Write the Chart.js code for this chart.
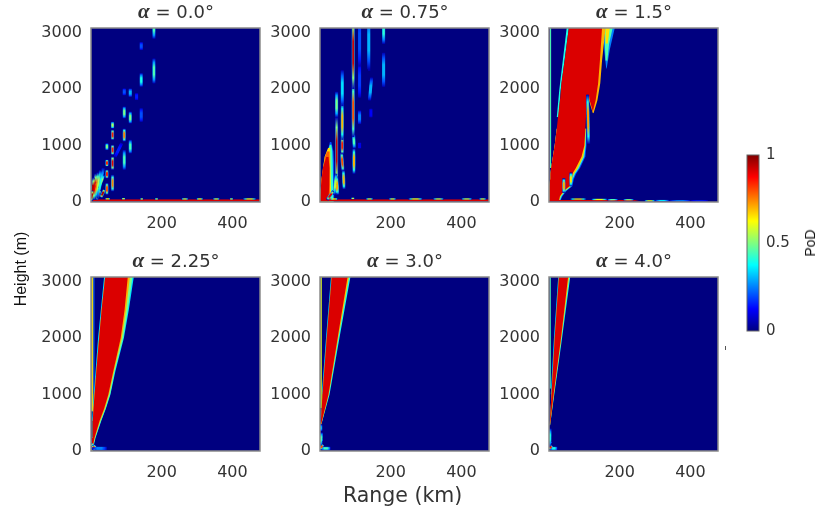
<!DOCTYPE html>
<html>
<head>
<meta charset="utf-8">
<script src="https://cdn.jsdelivr.net/npm/chart.js@4"></script>
<style>
  html, body { margin: 0; padding: 0; background: #fff; }
  #page { position: relative; width: 820px; height: 509px; overflow: hidden; filter: blur(0.35px); }
  canvas { position: absolute; }
  .label { position: absolute; white-space: nowrap; color: #333; font-family: "DejaVu Sans", sans-serif; }
  .panelTitle { font-size: 18px; transform: translateX(-50%); }
  .panelTitle i { font-family: "Liberation Serif", serif; font-weight: bold; font-size: 21px; }
  .mark { position: absolute; left: 725px; top: 346px; width: 1px; height: 4px; background: #555; }
</style>
</head>
<body>
<div id="page"></div>
<script>
// eixos e textos
const titles = ['0.0', '0.75', '1.5', '2.25', '3.0', '4.0'];
const rangeTicks = [200, 400];
const heightTicks = [0, 1000, 2000, 3000];
const podTicks = [0, 0.5, 1];
const jetKnots = [0, 0.125, 0.375, 0.625, 0.875, 1];

// faixas: [altura, alcance esq, alcance dir]
const strip00 = [[8, 0, 478], [50, 0, 478]];
const strip075 = [[8, 0, 478], [50, 0, 478]];
const strip15 = [[8, 0, 262], [36, 0, 240]];

// alpha 0.75
const lobeBlue075 = [[0, 0, 40], [300, 3, 40], [700, 11, 40], [900, 22, 38], [1060, 28, 32]];
const lobeCyan075 = [[0, 0, 38], [300, 3, 37], [700, 12, 36], [900, 22, 35], [1020, 28, 32]];
const lobeYellow075 = [[10, 0, 32], [400, 4, 30], [800, 13, 31], [960, 23, 29]];
const lobeOrange075 = [[10, 0, 29], [400, 4, 28], [800, 14, 28], [900, 20, 27]];
const lobeRed075 = [[10, 0, 24], [300, 3, 26], [600, 8, 27], [800, 18, 24]];

// alpha 1.5
const line15 = [[600, 3, 6], [3080, 3, 6]];
const edge15 = [[1500, 22, 27], [1980, 29, 33], [3080, 50, 56]];
const mainBlue15 = [[30, 0, 33], [100, 0, 38], [200, 1, 50], [280, 2, 66], [400, 3, 70], [500, 4, 77], [600, 6, 88], [800, 11, 103], [1000, 16, 106], [1300, 22, 106]];
const mainCyan15 = [[20, 0, 31], [100, 0, 36], [200, 1, 48], [280, 2, 64], [400, 3, 67], [500, 4, 74], [600, 6, 85], [800, 11, 100], [1000, 16, 104], [1300, 22, 105]];
const mainYellow15 = [[20, 0, 29], [100, 0, 33], [200, 1, 45], [280, 2, 61], [400, 3, 64], [500, 4, 71], [600, 6, 82], [800, 11, 97], [1000, 16, 102], [1300, 22, 104]];
const mainRed15 = [[20, 0, 28], [100, 0, 31], [200, 1, 42], [280, 2, 58], [400, 3, 60], [500, 4, 66], [600, 6, 76], [800, 11, 92], [1000, 16, 100], [1300, 22, 103], [1700, 29, 106], [1850, 32, 113], [2100, 35, 116], [2500, 44, 120], [3080, 56, 128]];
const lobeYellow15 = [[1570, 124, 126], [1800, 113, 137], [2100, 107, 145], [2500, 107, 150], [3080, 108, 160]];
const lobeRed15 = [[1600, 124, 124], [1800, 115, 132], [2100, 108, 139], [2500, 108, 144], [3080, 110, 150]];
const tipBlue15 = [[2360, 162, 163], [2700, 156, 172], [3080, 155, 186]];
const tipCyan15 = [[2500, 160, 165], [2800, 158, 170], [3080, 158, 180]];
const tipYellow15 = [[2800, 160, 166], [3080, 160, 172]];

// alpha 2.25
const lineGreen225 = [[700, 1, 7], [3080, 1, 7]];
const lineYellow225 = [[700, 2, 5], [3080, 2, 5]];
const lineBlue225 = [[1000, 7, 10], [3080, 7, 10]];
const edge225 = [[530, 3, 5], [1000, 8, 10], [2000, 20, 23], [3080, 37, 40]];
const cyan225 = [[0, 1, 4], [235, 3, 13], [530, 5, 29], [750, 7, 42], [1000, 10, 55], [1411, 15, 69], [2000, 23, 93], [2500, 30, 107], [3080, 40, 121]];
const teal225 = [[0, 1, 3], [235, 3, 12], [530, 5, 28], [750, 7, 41], [1000, 10, 54], [1411, 15, 67], [2000, 23, 91], [2500, 30, 104], [3080, 40, 117]];
const yellow225 = [[0, 1, 3], [235, 3, 11], [530, 5, 26], [750, 7, 39], [1000, 10, 51], [1411, 15, 65], [2000, 23, 87], [2500, 30, 99], [3080, 40, 110]];
const red225 = [[0, 1, 2], [235, 3, 10], [530, 5, 24], [750, 7, 37], [1000, 10, 49], [1411, 15, 63], [2000, 23, 84], [2500, 30, 95], [3080, 40, 104]];

// alpha 3.0
const line30 = [[760, 1, 5], [3080, 1, 5]];
const edge30 = [[1000, 5, 7], [2000, 17, 19], [3080, 31, 33]];
const cyan30 = [[450, 2, 3], [1000, 7, 27], [2000, 19, 55], [3080, 33, 86]];
const yellow30 = [[450, 2, 3], [1000, 7, 25], [2000, 19, 52], [3080, 33, 82]];
const red30 = [[470, 2, 3], [1000, 7, 24], [2000, 19, 50], [3080, 33, 78]];

// alpha 4.0
const line40 = [[1100, 2, 5], [3080, 2, 5]];
const edge40 = [[1000, 5, 7], [2000, 14, 16], [3080, 26, 28]];
const cyan40 = [[450, 2, 3], [1000, 7, 15], [2000, 16, 37], [3080, 28, 60]];
const yellow40 = [[450, 2, 3], [1000, 7, 14], [2000, 16, 35], [3080, 28, 57]];
const red40 = [[470, 2, 3], [1000, 7, 13], [2000, 16, 34], [3080, 28, 54]];

// manchas: [alcance0, altura0, alcance1, altura1, PoD]
const spots00 = [
  [178, 2890, 178, 3300, 0.45], [178, 2100, 178, 2540, 0.45], [142, 2690, 142, 2830, 0.2], [142, 2040, 142, 2280, 0.4],
  [142, 1420, 142, 1660, 0.2], [129, 1805, 129, 1925, 0.15], [111, 1860, 111, 2010, 0.3], [94, 1890, 94, 2010, 0.2],
  [94, 1480, 94, 1690, 0.5], [111, 1390, 111, 1600, 0.5], [94, 1070, 94, 1300, 0.75], [111, 860, 111, 1100, 0.45],
  [94, 570, 94, 920, 0.45], [61, 1300, 61, 1420, 0.55], [61, 1100, 61, 1280, 0.85], [61, 835, 61, 1010, 0.85],
  [61, 570, 61, 805, 0.9], [61, 190, 61, 480, 0.75], [45, 920, 45, 1040, 0.5], [45, 630, 45, 750, 0.85],
  [45, 420, 45, 570, 0.85], [45, 130, 45, 335, 0.8], [68, 800, 87, 1040, 0.15],
  [0, 20, 4, 200, 0.95], [2, 30, 8, 430, 0.95], [5, 40, 14, 500, 0.9], [6, 150, 12, 350, 0.9], [8, 40, 20, 520, 0.75],
  [10, 300, 18, 480, 0.7], [12, 60, 27, 560, 0.55], [14, 330, 24, 500, 0.6], [18, 60, 35, 600, 0.4],
  [15, 40, 26, 210, 0.9], [28, 80, 38, 220, 0.95], [22, 250, 36, 480, 0.6], [3, 60, 5, 300, 0.95]
];
const bumps00 = [
  [40, 56, 54, 56, 0.65], [87, 58, 97, 58, 0.6], [139, 54, 148, 54, 0.55], [181, 54, 190, 54, 0.55], [256, 54, 275, 54, 0.55],
  [298, 54, 317, 54, 0.6], [345, 54, 364, 54, 0.55], [392, 54, 402, 54, 0.55], [430, 54, 467, 54, 0.6]
];
const spots075 = [
  [20, 40, 38, 190, 0.9], [40, 130, 46, 500, 0.55], [50, 130, 47, 450, 0.7],
  [47, 1500, 47, 1950, 0.5], [47, 300, 47, 1500, 0.92], [46, 150, 48, 320, 0.75],
  [63, 1700, 63, 2330, 0.35], [63, 1100, 63, 1750, 0.7], [63, 850, 63, 1150, 0.85], [65, 550, 61, 870, 0.8], [68, 230, 66, 560, 0.7],
  [94, 2000, 94, 3300, 0.92], [94, 1150, 94, 2100, 0.8], [97, 950, 95, 1200, 0.45], [96, 500, 96, 950, 0.7],
  [112, 2400, 112, 3300, 0.2], [112, 1850, 112, 2450, 0.18], [112, 1380, 112, 1620, 0.25], [112, 950, 112, 1050, 0.1],
  [136, 2350, 138, 3300, 0.3], [140, 1800, 146, 2200, 0.3], [144, 1500, 144, 1650, 0.12],
  [180, 2800, 180, 3300, 0.42], [180, 2040, 180, 2640, 0.3]
];
const bumps075 = [
  [30, 54, 50, 54, 0.65], [88, 64, 98, 64, 0.55], [130, 54, 150, 54, 0.55], [195, 54, 215, 54, 0.55], [250, 54, 290, 54, 0.6],
  [320, 54, 350, 54, 0.55], [400, 54, 430, 54, 0.55], [450, 54, 470, 54, 0.55]
];
const spots15 = [[112, 1030, 109, 1900, 0.72], [42, 160, 42, 420, 0.7], [62, 280, 62, 520, 0.65]];
const bumps15 = [
  [60, 52, 105, 52, 0.65], [120, 45, 165, 45, 0.6], [165, 40, 195, 42, 0.45], [210, 40, 240, 40, 0.5],
  [270, 20, 300, 20, 0.6], [300, 25, 340, 25, 0.35], [340, 20, 400, 22, 0.25], [400, 20, 450, 20, 0.15]
];
const spots225 = [[3, 47, 45, 47, 0.25], [3, 90, 14, 30, 0.9], [3, 30, 13, 100, 0.7], [0, 130, 5, 90, 0.5]];
const spots30 = [[2, 100, 4, 330, 0.45], [1, 30, 8, 120, 0.8], [3, 47, 30, 47, 0.45], [0, 200, 7, 170, 0.3], [2, 350, 2, 470, 0.3]];
const spots40 = [[2, 80, 3, 400, 0.4], [1, 30, 8, 100, 0.85], [3, 47, 24, 47, 0.4], [1, 150, 6, 130, 0.3]];

// camadas de cada painel, de baixo para cima: [faixa, PoD]
const layers = [
  [[strip00, 0.91]],
  [[lobeBlue075, 0.2], [lobeCyan075, 0.42], [lobeYellow075, 0.65], [lobeOrange075, 0.78], [lobeRed075, 0.91], [strip075, 0.91]],
  [[line15, 0.45], [edge15, 0.4], [tipBlue15, 0.25], [tipCyan15, 0.45], [tipYellow15, 0.65],
   [mainBlue15, 0.2], [mainCyan15, 0.42], [mainYellow15, 0.68], [lobeYellow15, 0.7], [lobeRed15, 0.91], [mainRed15, 0.91], [strip15, 0.91]],
  [[lineGreen225, 0.55], [lineYellow225, 0.68], [lineBlue225, 0.2], [edge225, 0.35], [cyan225, 0.35], [teal225, 0.5], [yellow225, 0.7], [red225, 0.91]],
  [[line30, 0.6], [edge30, 0.35], [cyan30, 0.4], [yellow30, 0.68], [red30, 0.91]],
  [[line40, 0.45], [edge40, 0.35], [cyan40, 0.4], [yellow40, 0.68], [red40, 0.91]]
];
const spots = [spots00, spots075, spots15, spots225, spots30, spots40];
const bumps = [bumps00, bumps075, bumps15, [], [], []];

const panelLefts = [91, 320, 549];
const panelTops = [28, 277];
const panelWidth = 169;
const panelHeight = 174;
const page = document.getElementById('page');

// mapa de cores jet do MATLAB
function jet(v) {
  const c = x => Math.round(255 * Math.max(0, Math.min(1, 1.5 - 4 * Math.abs(v - x))));
  return `rgb(${c(0.75)},${c(0.5)},${c(0.25)})`;
}

function addLabel(html, cls, style) {
  const el = document.createElement('div');
  el.className = 'label ' + cls;
  el.innerHTML = html;
  Object.assign(el.style, style);
  page.appendChild(el);
}

function addCanvas(left, top, width, height) {
  const canvas = document.createElement('canvas');
  canvas.width = width;
  canvas.height = height;
  canvas.style.left = left + 'px';
  canvas.style.top = top + 'px';
  page.appendChild(canvas);
  return canvas;
}

// banda preenchida entre dois contornos
function bandDatasets(rows, pod) {
  const base = { pointRadius: 0, borderWidth: 0, tension: 0, backgroundColor: jet(pod) };
  return [
    { ...base, data: rows.map(r => ({ x: r[1], y: r[0] })), fill: '+1' },
    { ...base, data: rows.map(r => ({ x: r[2], y: r[0] })), fill: false }
  ];
}

// mancha alongada: traco com gradiente ate o valor de pico
function spotDataset(spot, width, pod) {
  return {
    data: [{ x: spot[0], y: spot[1] }, { x: spot[2], y: spot[3] }],
    pointRadius: 0,
    fill: false,
    borderWidth: width,
    borderColor: ctx => {
      const { x, y } = ctx.chart.scales;
      const px0 = x.getPixelForValue(spot[0]);
      const py0 = y.getPixelForValue(spot[1]);
      const px1 = x.getPixelForValue(spot[2]);
      const py1 = y.getPixelForValue(spot[3]);
      // antes do layout as escalas ainda nao tem pixels
      if (![px0, py0, px1, py1].every(Number.isFinite)) return jet(pod);
      const g = ctx.chart.ctx.createLinearGradient(px0, py0, px1, py1);
      const mid = (pod + 0.1) / 2;
      g.addColorStop(0, jet(0.05));
      g.addColorStop(0.15, jet(mid));
      g.addColorStop(0.35, jet(pod));
      g.addColorStop(0.65, jet(pod));
      g.addColorStop(0.85, jet(mid));
      g.addColorStop(1, jet(0.05));
      return g;
    }
  };
}

const panelFrame = {
  id: 'panelFrame',
  beforeDatasetsDraw(chart) {
    const { ctx, chartArea: a } = chart;
    ctx.save();
    ctx.fillStyle = jet(0);
    ctx.fillRect(a.left, a.top, a.width, a.height);
    ctx.restore();
  },
  afterDatasetsDraw(chart) {
    const { ctx, chartArea: a } = chart;
    ctx.save();
    ctx.strokeStyle = '#8a8a8a';
    ctx.lineWidth = 1.5;
    ctx.strokeRect(a.left, a.top, a.width, a.height);
    ctx.restore();
  }
};

// sem margens automaticas: a area do grafico fica onde foi pedida
function zeraPadding(axis) {
  axis.paddingTop = 0;
  axis.paddingBottom = 0;
  axis.paddingLeft = 0;
  axis.paddingRight = 0;
}

function criarPainel(i) {
  const left = panelLefts[i % 3];
  const top = panelTops[Math.floor(i / 3)];
  const canvas = addCanvas(left - 60, top - 8, 60 + panelWidth + 20, 8 + panelHeight + 30);

  const datasets = [];
  layers[i].forEach(l => datasets.unshift(...bandDatasets(l[0], l[1])));
  const inner = spots[i].map(s => spotDataset(s, 2, s[4]));
  const outer = spots[i].map(s => spotDataset(s, 3, Math.min(s[4], 0.3)));
  const thin = bumps[i].map(s => spotDataset(s, 1.3, s[4]));

  const tickFont = { family: 'DejaVu Sans', size: 16 };
  new Chart(canvas, {
    type: 'line',
    data: { datasets: thin.concat(inner, outer, datasets) },
    options: {
      indexAxis: 'y',
      responsive: false,
      animation: false,
      layout: { autoPadding: false, padding: { top: 8, right: 20, left: 0, bottom: 0 } },
      plugins: { legend: { display: false }, tooltip: { enabled: false } },
      scales: {
        x: {
          type: 'linear', min: 0, max: 478,
          grid: { display: false, drawTicks: false }, border: { display: false },
          afterBuildTicks: axis => { axis.ticks = rangeTicks.map(v => ({ value: v })); },
          afterFit: axis => { axis.height = 30; zeraPadding(axis); },
          ticks: { font: tickFont, color: '#333', padding: 12, maxRotation: 0, callback: v => String(v) }
        },
        y: {
          type: 'linear', min: 0, max: 3080,
          grid: { display: false, drawTicks: false }, border: { display: false },
          afterBuildTicks: axis => { axis.ticks = heightTicks.map(v => ({ value: v })); },
          afterFit: axis => { axis.width = 60; zeraPadding(axis); },
          ticks: { font: tickFont, color: '#333', padding: 9, callback: v => String(v) }
        }
      }
    },
    plugins: [panelFrame]
  });

  addLabel('<i>\u03b1</i> = ' + titles[i] + '\u00b0', 'panelTitle', {
    left: (left + panelWidth / 2 + 0.5) + 'px',
    top: (top - 29) + 'px'
  });
}

function criarBarraCores() {
  const canvas = addCanvas(740, 145, 75, 196);
  new Chart(canvas, {
    type: 'bar',
    data: {
      labels: ['PoD'],
      datasets: [{
        data: [[0, 1]],
        barPercentage: 1,
        categoryPercentage: 1,
        backgroundColor: ctx => {
          const a = ctx.chart.chartArea;
          if (!a) return jet(0.5);
          const g = ctx.chart.ctx.createLinearGradient(0, a.bottom, 0, a.top);
          jetKnots.forEach(k => g.addColorStop(k, jet(k)));
          return g;
        }
      }]
    },
    options: {
      responsive: false,
      animation: false,
      layout: { autoPadding: false, padding: { top: 10, left: 7, right: 0, bottom: 10 } },
      plugins: { legend: { display: false }, tooltip: { enabled: false } },
      scales: {
        x: { display: false },
        y: {
          position: 'right', min: 0, max: 1,
          grid: { display: false, drawTicks: false }, border: { display: false },
          afterBuildTicks: axis => { axis.ticks = podTicks.map(v => ({ value: v })); },
          afterFit: axis => { axis.width = 56; zeraPadding(axis); },
          ticks: { font: { family: 'DejaVu Sans', size: 15 }, color: '#333', padding: 7, callback: v => String(v) }
        }
      }
    },
    plugins: [{
      id: 'barFrame',
      afterDatasetsDraw(chart) {
        const { ctx, chartArea: a } = chart;
        ctx.save();
        ctx.strokeStyle = '#666';
        ctx.strokeRect(a.left, a.top, a.width, a.height);
        ctx.restore();
      }
    }]
  });
}

for (let i = 0; i < 6; i++) criarPainel(i);
criarBarraCores();

addLabel('Range (km)', '', { left: '343px', top: '483px', fontSize: '20.5px' });
addLabel('Height (m)', '', {
  left: '21px', top: '269px', fontSize: '16px', fontFamily: '"Liberation Sans", sans-serif',
  transform: 'translate(-50%, -50%) rotate(-90deg)', color: '#111'
});
addLabel('PoD', '', {
  left: '810px', top: '243px', fontSize: '14px', fontFamily: '"Liberation Sans", sans-serif',
  transform: 'translate(-50%, -50%) rotate(-90deg)', color: '#111'
});
const mark = document.createElement('div');
mark.className = 'mark';
page.appendChild(mark);
</script>
</body>
</html>
